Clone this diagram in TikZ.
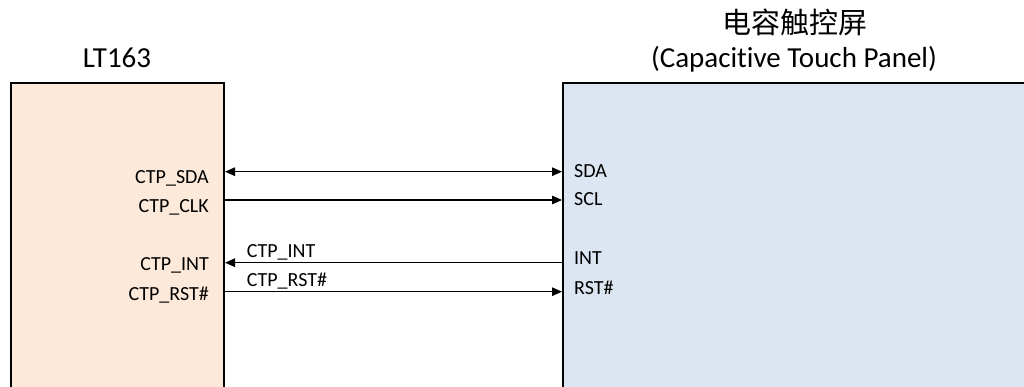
\documentclass[tikz,border=0pt]{standalone}
\usepackage{fontspec}
\setmainfont{Carlito}[Ligatures=NoCommon]
\newfontfamily\cjkfont{Noto Sans CJK SC}
\usetikzlibrary{arrows.meta}
\definecolor{ltfill}{HTML}{FDE9D9}
\definecolor{ctpfill}{HTML}{DCE6F2}
\begin{document}
\begin{tikzpicture}[x=1pt,y=-1pt,
  box/.style={draw=black,line width=2pt,rectangle,inner sep=0pt},
  pin/.style={inner sep=0pt,font=\fontsize{20}{24}\selectfont},
  title/.style={inner sep=0pt,font=\fontsize{29}{34}\selectfont},
  sig/.style={line width=1.3pt},
]
\useasboundingbox (0,0) rectangle (1024,387);
\clip (0,0) rectangle (1024,387);
\node[box,fill=ltfill,minimum width=213pt,minimum height=340pt,anchor=north west] (lt) at (10,82) {};
\node[box,fill=ctpfill,minimum width=480pt,minimum height=340pt,anchor=north west] (ctp) at (562,82) {};
% titles
\node[title,anchor=base] (ltname) at (117,68) {LT163};
\node[title,anchor=base] (ctpname) at (794,68) {(Capacitive Touch Panel)};
\node[inner sep=0pt,anchor=base,font=\cjkfont\fontsize{29}{34}\selectfont] (ctpcn) at (795,34) {电容触控屏};
% left pins
\node[pin,anchor=base east] (lsda) at (209,183.3) {CTP\_SDA};
\node[pin,anchor=base east] (lclk) at (209,212.7) {CTP\_CLK};
\node[pin,anchor=base east] (lint) at (209,270.7) {CTP\_INT};
\node[pin,anchor=base east] (lrst) at (209,300) {CTP\_RST\#};
% right pins
\node[pin,anchor=base west] (rsda) at (574,177.3) {SDA};
\node[pin,anchor=base west] (rscl) at (574,206) {SCL};
\node[pin,anchor=base west] (rint) at (574,264.3) {INT};
\node[pin,anchor=base west] (rrst) at (574,294.3) {RST\#};
% line labels
\node[pin,anchor=base west] (tint) at (246.7,257.3) {CTP\_INT};
\node[pin,anchor=base west] (trst) at (246.7,286.7) {CTP\_RST\#};
% rows
\coordinate (ysda) at (0,171.7);
\coordinate (yclk) at (0,200);
\coordinate (yint) at (0,262.7);
\coordinate (yrst) at (0,291.7);
\draw[sig,{Triangle[length=10pt,width=8.5pt]}-{Triangle[length=10pt,width=8.5pt]}] (lt.east |- ysda) -- (ctp.west |- ysda);
\draw[sig,-{Triangle[length=10pt,width=8.5pt]}] (lt.east |- yclk) -- (ctp.west |- yclk);
\draw[sig,-{Triangle[length=10pt,width=8.5pt]}] (ctp.west |- yint) -- (lt.east |- yint);
\draw[sig,-{Triangle[length=10pt,width=8.5pt]}] (lt.east |- yrst) -- (ctp.west |- yrst);
\end{tikzpicture}
\end{document}
